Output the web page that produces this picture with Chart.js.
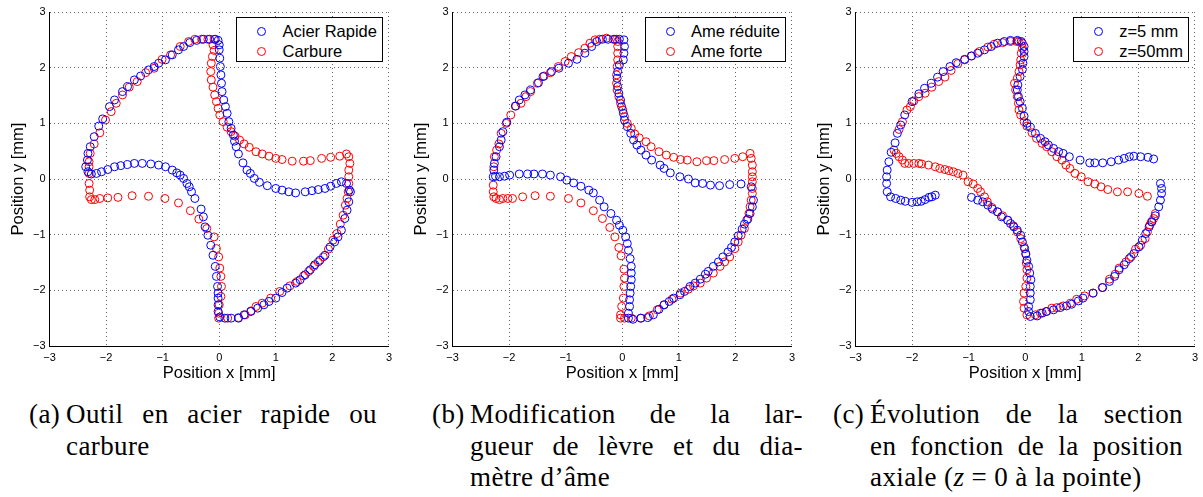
<!DOCTYPE html>
<html lang="fr">
<head>
<meta charset="utf-8">
<title>Sections de forets</title>
<script src="https://cdn.jsdelivr.net/npm/chart.js@4.4.1/dist/chart.umd.min.js"></script>
<style>
  html, body { margin: 0; padding: 0; background: #fff; overflow: hidden; }
  #page { position: relative; width: 1203px; height: 497px; }
  .panel { position: absolute; top: 0; width: 397px; height: 390px; }
  .legend { position: absolute; background: #fff; border: 1px solid #000; padding: 3px 5px 0 0;
            font: 16.5px "Liberation Sans", Arial, sans-serif; color: #000; }
  .legend div { height: 20px; display: flex; align-items: center; white-space: nowrap; }
  .legend i { display: block; width: 7px; height: 7px; border: 1px solid; border-radius: 50%; margin: 0 16px 0 20px; }
  .cap { position: absolute; top: 399px; font: 27px/31.7px "Liberation Serif", serif; letter-spacing: 0.4px; color: #000; }
  .cap div { white-space: nowrap; }
  .cap .j { white-space: normal; text-align: justify; text-align-last: justify; }
</style>
</head>
<body>
<div id="page">
  <div class="panel" style="left:0px"><canvas id="chartA" width="397" height="390"></canvas><div class="legend" id="legA"></div></div>
  <div class="panel" style="left:403px"><canvas id="chartB" width="397" height="390"></canvas><div class="legend" id="legB"></div></div>
  <div class="panel" style="left:806px"><canvas id="chartC" width="397" height="390"></canvas><div class="legend" id="legC"></div></div>

  <div class="cap" style="left:29px">(a)</div>
  <div class="cap" style="left:66px;width:311px">
    <div class="j">Outil en acier rapide ou</div>
    <div>carbure</div>
  </div>

  <div class="cap" style="left:432px">(b)</div>
  <div class="cap" style="left:470px;width:333px">
    <div class="j">Modification de la lar-</div>
    <div class="j">gueur de lèvre et du dia-</div>
    <div>mètre d’âme</div>
  </div>

  <div class="cap" style="left:833px">(c)</div>
  <div class="cap" style="left:870px;width:313px">
    <div class="j">Évolution de la section</div>
    <div class="j">en fonction de la position</div>
    <div>axiale (<i>z</i> = 0 à la pointe)</div>
  </div>
</div>

<script>
// tick values shared by both axes of the three plots
const axisTicks = [-3, -2, -1, 0, 1, 2, 3];

// (a) high speed steel vs carbide, points [x, y] in mm
const acierRapide = [
  [-2.36,0.22],[-2.33,0.34],[-2.32,0.46],[-2.28,0.58],[-2.21,0.76],[-2.13,0.95],[-2.06,1.08],[-1.94,1.30],
  [-1.85,1.42],[-1.71,1.57],[-1.62,1.66],[-1.50,1.78],[-1.39,1.85],[-1.25,1.96],[-1.15,2.02],[-1.07,2.08],
  [-0.95,2.14],[-0.83,2.23],[-0.72,2.32],[-0.63,2.38],[-0.52,2.45],[-0.40,2.49],[-0.28,2.51],[-0.17,2.51],
  [-0.07,2.51],[-0.02,2.49],
  [0.00,2.41],[0.00,2.32],[0.01,2.17],[0.02,2.02],[0.03,1.87],[0.04,1.72],[0.05,1.57],[0.08,1.42],
  [0.11,1.30],[0.14,1.18],[0.17,1.03],[0.21,0.91],[0.25,0.79],[0.27,0.68],[0.30,0.58],[0.34,0.45],
  [0.42,0.29],[0.49,0.16],[0.55,0.10],[0.62,0.01],[0.71,-0.06],[0.85,-0.12],[1.00,-0.17],[1.11,-0.20],
  [1.23,-0.23],[1.35,-0.25],[1.52,-0.23],[1.64,-0.21],[1.75,-0.19],[1.87,-0.17],[1.97,-0.13],[2.07,-0.08],
  [2.16,-0.05],[2.25,-0.08],[2.30,-0.20],[2.32,-0.23],
  [2.29,-0.41],[2.26,-0.56],[2.22,-0.71],[2.16,-0.92],[2.10,-1.04],[2.04,-1.13],[1.96,-1.22],[1.87,-1.37],
  [1.78,-1.46],[1.69,-1.54],[1.61,-1.63],[1.52,-1.72],[1.43,-1.81],[1.35,-1.87],[1.20,-1.96],[1.11,-2.04],
  [1.00,-2.14],[0.88,-2.20],[0.79,-2.26],[0.68,-2.32],[0.56,-2.38],[0.44,-2.44],[0.34,-2.50],[0.21,-2.50],
  [0.10,-2.50],[0.01,-2.48],
  [-0.02,-2.38],[-0.02,-2.26],[-0.02,-2.14],[-0.02,-2.05],[-0.03,-1.93],[-0.05,-1.75],[-0.07,-1.57],
  [-0.11,-1.37],[-0.15,-1.19],[-0.20,-1.01],[-0.25,-0.86],[-0.28,-0.68],[-0.32,-0.54],[-0.43,-0.35],
  [-0.49,-0.23],[-0.53,-0.14],[-0.57,-0.08],[-0.63,0.01],[-0.69,0.07],[-0.75,0.11],[-0.83,0.16],[-0.95,0.22],
  [-1.07,0.25],[-1.21,0.27],[-1.36,0.28],[-1.50,0.28],[-1.62,0.26],[-1.74,0.24],[-1.85,0.22],[-1.97,0.17],
  [-2.08,0.13],[-2.17,0.10],[-2.26,0.09],[-2.32,0.13]
];
const carbure = [
  [-2.30,0.22],[-2.30,0.31],[-2.28,0.46],[-2.21,0.63],[-2.11,0.83],[-2.01,1.06],[-1.91,1.21],[-1.82,1.36],
  [-1.71,1.51],[-1.59,1.65],[-1.45,1.75],[-1.30,1.91],[-1.15,1.99],[-1.01,2.15],[-0.86,2.23],[-0.69,2.38],
  [-0.54,2.47],[-0.43,2.51],[-0.31,2.51],[-0.20,2.51],[-0.09,2.51],
  [-0.11,2.41],[-0.09,2.31],[-0.12,2.20],[-0.14,2.08],[-0.15,1.93],[-0.14,1.78],[-0.11,1.65],[-0.08,1.51],
  [-0.05,1.39],[-0.02,1.27],[0.01,1.15],[0.07,1.03],[0.14,0.93],[0.21,0.85],[0.28,0.77],[0.36,0.70],
  [0.44,0.63],[0.53,0.57],[0.65,0.49],[0.76,0.45],[0.88,0.41],[1.00,0.37],[1.11,0.35],[1.29,0.32],
  [1.49,0.32],[1.61,0.33],[1.81,0.37],[1.97,0.39],[2.13,0.41],[2.25,0.45],
  [2.29,0.40],[2.31,0.28],[2.29,0.16],[2.29,0.04],[2.29,-0.08],[2.28,-0.23],[2.26,-0.35],[2.23,-0.47],
  [2.19,-0.65],[2.14,-0.81],[2.08,-0.98],[2.01,-1.10],[1.93,-1.26],[1.84,-1.40],[1.75,-1.49],[1.67,-1.57],
  [1.58,-1.66],[1.49,-1.74],[1.38,-1.84],[1.25,-1.92],[1.07,-2.02],[0.91,-2.14],[0.76,-2.23],[0.65,-2.29],
  [0.56,-2.37],[0.46,-2.44],[0.34,-2.49],[0.15,-2.50],[-0.01,-2.50],
  [-0.01,-2.41],[0.00,-2.26],[0.03,-2.11],[0.04,-1.93],[0.03,-1.75],[0.01,-1.60],[-0.01,-1.40],[-0.05,-1.25],
  [-0.09,-1.04],[-0.22,-0.89],[-0.36,-0.72],[-0.51,-0.57],[-0.72,-0.43],[-0.96,-0.35],[-1.25,-0.31],
  [-1.54,-0.30],[-1.79,-0.33],[-1.97,-0.34],[-2.11,-0.35],[-2.20,-0.37],[-2.26,-0.37],[-2.29,-0.32],
  [-2.29,-0.20],[-2.30,-0.08],[-2.30,0.10]
];

// (b) reduced vs strong web
const ameReduite = [
  [-2.28,0.04],[-2.27,0.16],[-2.26,0.28],[-2.23,0.40],[-2.17,0.58],[-2.14,0.70],[-2.11,0.85],[-2.04,1.02],
  [-1.89,1.31],[-1.82,1.42],[-1.72,1.51],[-1.62,1.60],[-1.48,1.73],[-1.40,1.84],[-1.25,1.93],[-1.12,1.99],
  [-0.95,2.08],[-0.80,2.15],[-0.66,2.26],[-0.54,2.38],[-0.45,2.47],[-0.35,2.51],[-0.25,2.51],[-0.13,2.51],
  [-0.05,2.51],
  [0.03,2.50],[0.04,2.38],[0.03,2.26],[0.02,2.14],[-0.05,2.05],[-0.08,1.93],[-0.09,1.81],[-0.08,1.66],
  [-0.06,1.54],[-0.03,1.42],[-0.01,1.30],[0.02,1.18],[0.04,1.06],[0.09,0.94],[0.15,0.82],[0.20,0.70],
  [0.26,0.61],[0.33,0.52],[0.42,0.43],[0.52,0.34],[0.67,0.25],[0.74,0.19],[0.85,0.11],[1.02,0.04],
  [1.17,0.00],[1.29,-0.07],[1.42,-0.08],[1.56,-0.11],[1.72,-0.12],[1.90,-0.10],[2.10,-0.09],[2.28,-0.14],
  [2.32,-0.38],[2.30,-0.50],[2.26,-0.62],[2.22,-0.72],[2.16,-0.81],[2.12,-0.90],[2.05,-1.02],[1.99,-1.13],
  [1.93,-1.23],[1.87,-1.31],[1.78,-1.40],[1.70,-1.49],[1.61,-1.57],[1.52,-1.66],[1.47,-1.71],[1.38,-1.80],
  [1.29,-1.87],[1.20,-1.93],[1.10,-2.02],[1.02,-2.08],[0.91,-2.14],[0.83,-2.20],[0.74,-2.26],[0.65,-2.34],
  [0.55,-2.44],[0.45,-2.49],[0.33,-2.50],[0.19,-2.52],[0.11,-2.50],
  [0.11,-2.41],[0.13,-2.29],[0.13,-2.17],[0.14,-2.05],[0.15,-1.93],[0.16,-1.81],[0.16,-1.69],[0.16,-1.57],
  [0.14,-1.43],[0.11,-1.28],[0.09,-1.16],[0.06,-1.04],[0.01,-0.92],[-0.05,-0.83],[-0.10,-0.74],[-0.20,-0.62],
  [-0.32,-0.50],[-0.40,-0.38],[-0.51,-0.25],[-0.59,-0.20],[-0.73,-0.13],[-0.86,-0.07],[-0.98,-0.02],
  [-1.09,0.04],[-1.27,0.07],[-1.41,0.09],[-1.56,0.09],[-1.67,0.09],[-1.82,0.09],[-1.99,0.07],[-2.08,0.05],
  [-2.17,0.04],[-2.24,0.05]
];
const ameForte = [
  [-2.28,-0.11],[-2.27,0.22],[-2.26,0.40],[-2.22,0.52],[-2.18,0.63],[-2.14,0.82],[-2.05,1.00],[-1.97,1.15],
  [-1.88,1.31],[-1.79,1.36],[-1.70,1.48],[-1.62,1.57],[-1.50,1.72],[-1.38,1.85],[-1.27,1.91],[-1.13,2.02],
  [-1.01,2.11],[-0.90,2.20],[-0.77,2.27],[-0.66,2.35],[-0.57,2.44],[-0.48,2.50],[-0.40,2.51],[-0.28,2.53],
  [-0.16,2.51],[-0.10,2.51],
  [-0.08,2.47],[-0.08,2.38],[-0.08,2.26],[-0.08,2.14],[-0.09,2.02],[-0.10,1.87],[-0.10,1.72],[-0.09,1.60],
  [-0.06,1.48],[-0.03,1.36],[0.01,1.24],[0.04,1.12],[0.09,1.00],[0.16,0.91],[0.22,0.81],[0.30,0.74],
  [0.42,0.67],[0.51,0.58],[0.65,0.49],[0.78,0.43],[0.91,0.39],[1.03,0.35],[1.15,0.34],[1.32,0.31],
  [1.49,0.33],[1.62,0.33],[1.81,0.35],[1.99,0.37],[2.13,0.40],[2.26,0.46],
  [2.28,0.37],[2.30,0.25],[2.30,0.13],[2.30,0.04],[2.30,-0.05],[2.30,-0.17],[2.30,-0.26],[2.28,-0.38],
  [2.26,-0.50],[2.24,-0.62],[2.20,-0.74],[2.16,-0.89],[2.10,-1.01],[2.05,-1.13],[1.99,-1.25],[1.90,-1.40],
  [1.81,-1.49],[1.73,-1.57],[1.61,-1.69],[1.49,-1.78],[1.38,-1.87],[1.26,-1.92],[1.17,-1.98],[1.03,-2.05],
  [0.88,-2.16],[0.74,-2.26],[0.62,-2.35],[0.48,-2.46],[0.33,-2.50],[0.16,-2.50],[0.04,-2.50],[-0.03,-2.50],
  [-0.03,-2.44],[-0.01,-2.29],[0.02,-2.14],[0.03,-1.93],[0.04,-1.78],[0.03,-1.62],[-0.02,-1.38],[-0.06,-1.23],
  [-0.13,-1.04],[-0.22,-0.87],[-0.35,-0.71],[-0.51,-0.57],[-0.73,-0.43],[-0.95,-0.35],[-1.27,-0.31],
  [-1.54,-0.30],[-1.76,-0.32],[-1.94,-0.35],[-2.02,-0.35],[-2.11,-0.35],[-2.17,-0.37],[-2.23,-0.35],
  [-2.27,-0.32],[-2.28,-0.23]
];

// (c) section at z = 5 mm and z = 50 mm
const z5mm = [
  [-1.59,-0.29],[-1.65,-0.32],[-1.70,-0.33],[-1.77,-0.37],[-1.84,-0.40],[-1.91,-0.41],[-2.00,-0.42],
  [-2.12,-0.40],[-2.20,-0.38],[-2.29,-0.35],[-2.38,-0.32],[-2.44,-0.23],[-2.45,-0.08],[-2.45,0.04],
  [-2.44,0.16],[-2.41,0.31],
  [-2.37,0.48],[-2.30,0.65],[-2.26,0.82],[-2.20,0.97],[-2.13,1.15],[-2.00,1.39],[-1.88,1.53],[-1.78,1.63],
  [-1.66,1.72],[-1.55,1.83],[-1.45,1.93],[-1.33,2.02],[-1.22,2.09],[-1.07,2.15],[-0.95,2.21],[-0.84,2.26],
  [-0.72,2.32],[-0.60,2.38],[-0.49,2.44],[-0.37,2.47],[-0.26,2.49],[-0.14,2.49],[-0.07,2.47],
  [-0.02,2.38],[-0.02,2.29],[-0.02,2.20],[-0.04,2.08],[-0.05,1.97],[-0.09,1.84],[-0.13,1.69],[-0.14,1.60],
  [-0.12,1.48],[-0.09,1.39],[-0.05,1.27],[-0.02,1.13],[0.03,1.00],[0.09,0.93],[0.18,0.82],[0.27,0.73],
  [0.35,0.67],[0.41,0.61],[0.50,0.55],[0.59,0.49],[0.67,0.46],[0.78,0.40],[0.97,0.34],[1.14,0.29],
  [1.23,0.29],[1.37,0.29],[1.52,0.31],[1.65,0.34],[1.75,0.37],[1.84,0.40],[1.92,0.41],[2.04,0.40],
  [2.17,0.39],[2.27,0.36],
  [2.39,-0.08],[2.41,-0.17],[2.41,-0.26],[2.39,-0.38],[2.36,-0.50],[2.30,-0.66],[2.24,-0.77],[2.19,-0.86],
  [2.13,-0.98],[2.07,-1.10],[2.01,-1.22],[1.92,-1.34],[1.84,-1.43],[1.75,-1.54],[1.66,-1.63],[1.58,-1.75],
  [1.49,-1.84],[1.37,-1.95],[1.20,-2.05],[1.02,-2.14],[0.94,-2.19],[0.82,-2.25],[0.73,-2.28],[0.62,-2.31],
  [0.50,-2.35],[0.38,-2.38],[0.30,-2.41],[0.21,-2.46],[0.09,-2.47],
  [0.06,-2.38],[0.06,-2.29],[0.09,-2.17],[0.09,-2.05],[0.09,-1.93],[0.10,-1.81],[0.08,-1.69],[0.06,-1.57],
  [0.03,-1.46],[0.01,-1.35],[-0.01,-1.25],[-0.05,-1.13],[-0.08,-1.01],[-0.14,-0.92],[-0.20,-0.86],
  [-0.26,-0.80],[-0.31,-0.74],[-0.42,-0.68],[-0.49,-0.59],[-0.58,-0.54],[-0.66,-0.47],[-0.75,-0.41],
  [-0.84,-0.38],[-0.95,-0.33]
];
const z50mm = [
  [-2.32,0.52],[-2.28,0.46],[-2.23,0.40],[-2.17,0.34],[-2.13,0.28],[-2.06,0.28],[-1.97,0.28],[-1.88,0.28],
  [-1.83,0.27],[-1.71,0.25],[-1.59,0.22],[-1.51,0.19],[-1.42,0.17],[-1.35,0.15],[-1.27,0.13],[-1.19,0.10],
  [-1.10,0.07],[-1.01,-0.05],[-0.92,-0.09],[-0.84,-0.17],[-0.79,-0.23],[-0.72,-0.32],[-0.67,-0.41],
  [-0.59,-0.51],[-0.49,-0.59],[-0.40,-0.66],[-0.31,-0.74],[-0.21,-0.84],[-0.14,-0.95],[-0.08,-1.07],
  [-0.02,-1.22],[0.01,-1.34],[0.02,-1.51],[0.03,-1.63],[0.03,-1.78],[0.01,-1.93],[-0.02,-2.05],[-0.03,-2.20],
  [-0.02,-2.32],[0.03,-2.44],
  [0.18,-2.44],[0.27,-2.41],[0.37,-2.38],[0.47,-2.32],[0.56,-2.31],[0.67,-2.28],[0.80,-2.23],[0.91,-2.16],
  [1.05,-2.10],[1.20,-2.05],[1.36,-1.95],[1.49,-1.80],[1.59,-1.71],[1.66,-1.60],[1.78,-1.49],[1.87,-1.40],
  [1.95,-1.26],[2.04,-1.19],[2.12,-1.07],[2.16,-0.95],[2.20,-0.83],[2.23,-0.77],[2.27,-0.71],[2.30,-0.62],
  [2.16,-0.31],[2.01,-0.26],[1.81,-0.23],[1.63,-0.23],[1.46,-0.19],[1.34,-0.14],[1.23,-0.09],[1.11,-0.05],
  [0.99,0.04],[0.88,0.10],[0.79,0.19],[0.72,0.25],[0.65,0.34],[0.56,0.40],[0.47,0.49],[0.38,0.58],
  [0.30,0.64],[0.20,0.73],[0.12,0.83],[0.03,0.95],[-0.02,1.03],[-0.08,1.15],[-0.11,1.24],[-0.12,1.36],
  [-0.14,1.48],[-0.17,1.60],[-0.19,1.72],[-0.14,1.81],[-0.11,1.93],[-0.09,2.05],[-0.08,2.14],[-0.07,2.26],
  [-0.05,2.35],[-0.05,2.44],[-0.11,2.47],
  [-0.15,2.47],[-0.26,2.47],[-0.40,2.45],[-0.55,2.42],[-0.66,2.37],[-0.81,2.29],[-0.95,2.21],[-1.07,2.14],
  [-1.19,2.07],[-1.31,1.95],[-1.42,1.83],[-1.53,1.75],[-1.65,1.65],[-1.77,1.54],[-1.88,1.48],[-1.97,1.40],
  [-2.03,1.30],[-2.09,1.24],[-2.17,1.03],[-2.23,0.89]
];

const BLUE = 'rgb(0,0,255)';
const RED = 'rgb(255,0,0)';

function axis(title, dir) {
  return {
    type: 'linear',
    min: -3,
    max: 3,
    afterBuildTicks: s => { s.ticks = axisTicks.map(v => ({ value: v })); },
    afterFit: s => { if (dir === 'x') s.height = 44; else s.width = 49.5; },
    grid: { color: '#666', lineWidth: 1, drawTicks: false },
    border: { display: true, color: '#000', width: 1, dash: [1, 3] },
    ticks: {
      color: '#000',
      padding: dir === 'x' ? 5 : 4,
      autoSkip: false,
      maxRotation: 0,
      font: { family: 'Liberation Sans', size: 11 },
      callback: v => String(v).replace('-', '\u2212')
    },
    title: {
      display: true,
      text: title,
      color: '#000',
      font: { family: 'Liberation Sans', size: 16.5 },
      padding: dir === 'x' ? { top: 0, bottom: 7 } : { top: 8.6, bottom: 0 }
    }
  };
}

function buildChart(canvasId, legendId, series) {
  const chart = new Chart(document.getElementById(canvasId), {
    type: 'scatter',
    data: {
      datasets: series.map(s => ({
        label: s.label,
        data: s.points.map(p => ({ x: p[0], y: p[1] })),
        pointStyle: 'circle',
        pointRadius: 4,
        pointHoverRadius: 4,
        pointBorderWidth: 1,
        borderColor: s.color,
        pointBorderColor: s.color,
        backgroundColor: 'rgba(0,0,0,0)',
        pointBackgroundColor: 'rgba(0,0,0,0)'
      }))
    },
    options: {
      responsive: false,
      animation: false,
      events: [],
      layout: { padding: { top: 12, right: 3.5, left: 0, bottom: 0 } },
      plugins: { legend: { display: false }, tooltip: { enabled: false } },
      scales: { x: axis('Position x [mm]', 'x'), y: axis('Position y [mm]', 'y') }
    }
  });

  // matlab-like legend box inside the top right corner of the axes
  const leg = document.getElementById(legendId);
  chart.data.datasets.forEach(ds => {
    const row = document.createElement('div');
    const mark = document.createElement('i');
    mark.style.borderColor = ds.pointBorderColor;
    row.appendChild(mark);
    row.appendChild(document.createTextNode(ds.label));
    leg.appendChild(row);
  });
  const ca = chart.chartArea;
  leg.style.top = (ca.top + 5) + 'px';
  leg.style.right = (chart.width - ca.right + 6) + 'px';
  return chart;
}

buildChart('chartA', 'legA', [
  { label: 'Acier Rapide', color: BLUE, points: acierRapide },
  { label: 'Carbure', color: RED, points: carbure }
]);
buildChart('chartB', 'legB', [
  { label: 'Ame réduite', color: BLUE, points: ameReduite },
  { label: 'Ame forte', color: RED, points: ameForte }
]);
buildChart('chartC', 'legC', [
  { label: 'z=5 mm', color: BLUE, points: z5mm },
  { label: 'z=50mm', color: RED, points: z50mm }
]);
</script>
</body>
</html>
